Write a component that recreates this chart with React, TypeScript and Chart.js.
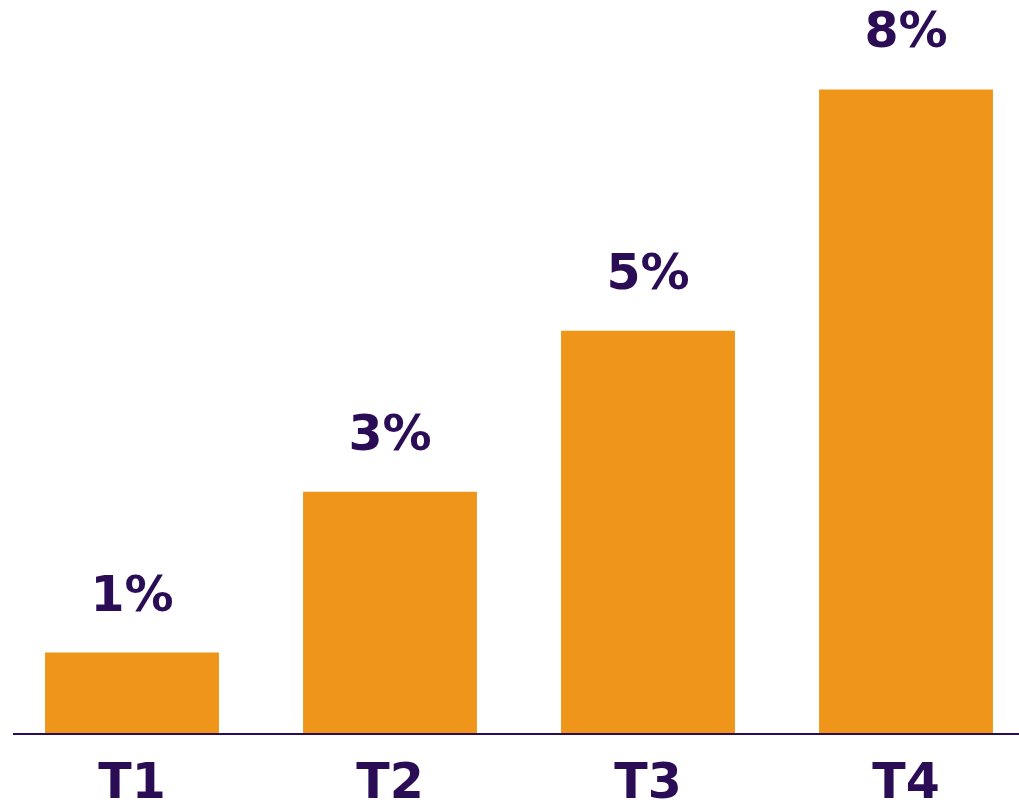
import React, { useEffect, useRef } from "react";
import { Chart, registerables } from "chart.js";

Chart.register(...registerables);

const categories = ["T1", "T2", "T3", "T4"];
const values = [1, 3, 5, 8];
const valueLabels = ["1%", "3%", "5%", "8%"];

const ORANGE = "#EF961A";
const PURPLE = "#2B0D56";
const FONT = "'DejaVu Sans', Verdana, sans-serif";

const valueLabelPlugin = {
  id: "valueLabels",
  afterDatasetsDraw(chart: any) {
    const ctx = chart.ctx;
    const meta = chart.getDatasetMeta(0);
    ctx.save();
    ctx.fillStyle = PURPLE;
    ctx.font = `bold 49px ${FONT}`;
    ctx.textAlign = "center";
    ctx.textBaseline = "alphabetic";
    meta.data.forEach((bar: any, i: number) => {
      ctx.fillText(valueLabels[i], bar.x, bar.y - 42);
    });
    ctx.restore();
  },
};

const axisLinePlugin = {
  id: "axisLine",
  afterDatasetsDraw(chart: any) {
    const ctx = chart.ctx;
    const y = chart.scales.y.getPixelForValue(0);
    ctx.save();
    ctx.strokeStyle = PURPLE;
    ctx.lineWidth = 2;
    ctx.beginPath();
    ctx.moveTo(13, y + 1);
    ctx.lineTo(1019, y + 1);
    ctx.stroke();
    ctx.restore();
  },
};

export default function App() {
  const ref = useRef<HTMLCanvasElement>(null);
  useEffect(() => {
    document.body.style.margin = "0";
    const chart = new Chart(ref.current!, {
      type: "bar",
      data: {
        labels: categories,
        datasets: [
          {
            data: values,
            backgroundColor: ORANGE,
            borderWidth: 0,
            categoryPercentage: 0.674,
            barPercentage: 1,
          },
        ],
      },
      options: {
        animation: false,
        responsive: false,
        maintainAspectRatio: false,
        layout: { padding: { left: 3, right: 5, top: 9, bottom: 0 } },
        plugins: { legend: { display: false }, tooltip: { enabled: false } },
        scales: {
          x: {
            grid: { display: false, drawTicks: false },
            border: { display: false },
            ticks: {
              color: PURPLE,
              font: { family: FONT, size: 49, weight: "bold" },
              padding: 23,
            },
            afterFit: (s: any) => {
              s.height = 71;
            },
          },
          y: {
            display: false,
            min: 0,
            max: 9,
          },
        },
      },
      plugins: [valueLabelPlugin, axisLinePlugin],
    });
    return () => chart.destroy();
  }, []);
  return (
    <div style={{ width: 1019, height: 804, overflow: "hidden" }}>
      <canvas ref={ref} width={1040} height={804} style={{ display: "block" }} />
    </div>
  );
}
